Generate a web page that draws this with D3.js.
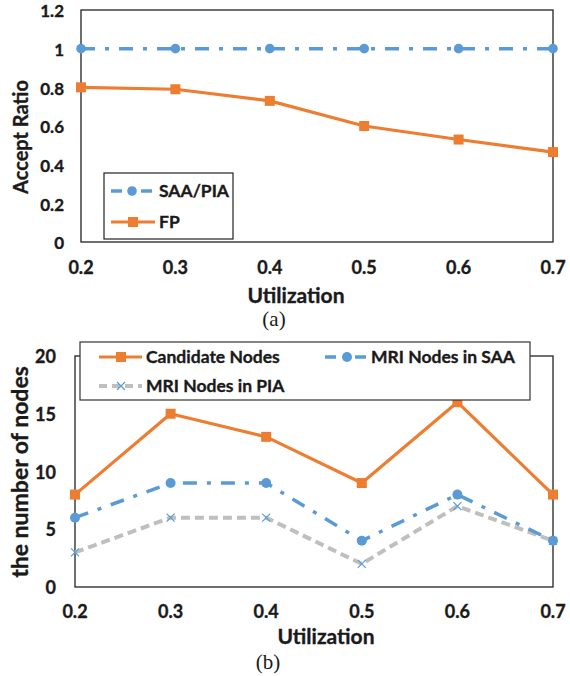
<!DOCTYPE html>
<html>
<head>
<meta charset="utf-8">
<script src="https://d3js.org/d3.v7.min.js"></script>
<style>
  body { margin: 0; background: #fff; }
  text { font-family: Lato, "Open Sans", sans-serif; font-weight: bold; fill: #1a1a1a; stroke: #1a1a1a; stroke-width: 0.35; }
  .cap { font-family: "Liberation Serif", serif; font-weight: normal; stroke: none; }
</style>
</head>
<body>
<svg width="570" height="676"></svg>
<script>
var utilization = [0.2, 0.3, 0.4, 0.5, 0.6, 0.7];
var xTicks = ["0.2", "0.3", "0.4", "0.5", "0.6", "0.7"];

// (a) accept ratio
var saaPia = [1, 1, 1, 1, 1, 1];
var fp = [0.8, 0.79, 0.73, 0.6, 0.53, 0.465];
var ratioTicks = [0, 0.2, 0.4, 0.6, 0.8, 1, 1.2];

// (b) number of nodes
var candidate = [8, 15, 13, 9, 16, 8];
var mriSaa = [6, 9, 9, 4, 8, 4];
var mriPia = [3, 6, 6, 2, 7, 4];
var nodeTicks = [0, 5, 10, 15, 20];

var BLUE = "#5b9bd5", ORANGE = "#ed7d31", GRAY = "#bfbfbf";
var svg = d3.select("svg");

function drawFrame(g, x, y) {
    g.append("rect")
        .attr("x", x.range()[0]).attr("y", y.range()[1])
        .attr("width", x.range()[1] - x.range()[0])
        .attr("height", y.range()[0] - y.range()[1])
        .attr("fill", "none").attr("stroke", "#222").attr("stroke-width", 1.3);
}

function series(g, x, y, vals, color, dash, width) {
    var line = d3.line().x(function (d, i) { return x(utilization[i]); }).y(function (d) { return y(d); });
    g.append("path").datum(vals)
        .attr("d", line)
        .attr("fill", "none")
        .attr("stroke", color)
        .attr("stroke-width", width)
        .attr("stroke-dasharray", dash)
        .attr("stroke-linejoin", "round");
}

function markers(g, x, y, vals, kind, size) {
    var sel = g.append("g").selectAll("g").data(vals).enter().append("g")
        .attr("transform", function (d, i) { return "translate(" + x(utilization[i]) + "," + y(d) + ")"; });
    drawMarker(sel, kind, size);
}

function drawMarker(sel, kind, size) {
    if (kind === "circle") {
        sel.append("circle").attr("r", size).attr("fill", BLUE);
    } else if (kind === "square") {
        sel.append("rect").attr("x", -size).attr("y", -size)
            .attr("width", size * 2).attr("height", size * 2).attr("fill", ORANGE);
    } else {
        sel.append("path").attr("d", "M-4,-4L4,4M-4,4L4,-4")
            .attr("stroke", BLUE).attr("stroke-width", 1.2).attr("fill", "none");
    }
}

function legendItem(g, x0, y0, len, color, dash, width, kind, size, label, markerAt) {
    g.append("path").attr("d", "M" + x0 + "," + y0 + "H" + (x0 + len))
        .attr("stroke", color).attr("stroke-width", width).attr("stroke-dasharray", dash).attr("fill", "none");
    var m = g.append("g").attr("transform", "translate(" + (x0 + markerAt) + "," + y0 + ")");
    drawMarker(m, kind, size);
    g.append("text").attr("x", x0 + len + 4).attr("y", y0).attr("dy", "0.35em")
        .attr("font-size", 17.5).text(label);
}

var SAA_DASH = "14,10,4,10", PIA_DASH = "9,5";

// ---------- chart (a) ----------
var xa = d3.scaleLinear().domain([0.2, 0.7]).range([81, 553]);
var ya = d3.scaleLinear().domain([0, 1.2]).range([242, 10]);
var ga = svg.append("g");

ga.append("g").selectAll("text").data(ratioTicks).enter().append("text")
    .attr("x", 64).attr("y", function (d) { return ya(d); }).attr("dy", "0.44em")
    .attr("text-anchor", "end").attr("font-size", 17)
    .text(function (d) { return d3.format("~g")(d); });
ga.append("g").selectAll("text").data(xTicks).enter().append("text")
    .attr("x", function (d, i) { return xa(utilization[i]); }).attr("y", 268).attr("dy", "0.36em")
    .attr("text-anchor", "middle").attr("font-size", 18)
    .text(function (d) { return d; });

drawFrame(ga, xa, ya);
series(ga, xa, ya, saaPia, BLUE, SAA_DASH, 3.5);
series(ga, xa, ya, fp, ORANGE, null, 3.2);
markers(ga, xa, ya, saaPia, "circle", 4.8);
markers(ga, xa, ya, fp, "square", 5);

ga.append("text").attr("transform", "translate(21,137) rotate(-90)").attr("dy", "0.36em")
    .attr("text-anchor", "middle").attr("font-size", 20).text("Accept Ratio");
ga.append("text").attr("x", 296).attr("y", 295).attr("dy", "0.36em")
    .attr("text-anchor", "middle").attr("font-size", 21).text("Utilization");
ga.append("text").attr("class", "cap").attr("x", 274).attr("y", 318).attr("dy", "0.36em")
    .attr("text-anchor", "middle").attr("font-size", 21).text("(a)");

var la = ga.append("g");
la.append("rect").attr("x", 104).attr("y", 173).attr("width", 129).attr("height", 66)
    .attr("fill", "#fff").attr("stroke", "#222").attr("stroke-width", 1.2);
legendItem(la, 111, 191, 44, BLUE, "11,8,3,8", 3.5, "circle", 4.8, "SAA/PIA", 21);
legendItem(la, 111, 222, 44, ORANGE, null, 3.2, "square", 5, "FP", 22);

// ---------- chart (b) ----------
var xb = d3.scaleLinear().domain([0.2, 0.7]).range([75, 553]);
var yb = d3.scaleLinear().domain([0, 20]).range([587, 356]);
var gb = svg.append("g");

gb.append("g").selectAll("text").data(nodeTicks).enter().append("text")
    .attr("x", 56).attr("y", function (d) { return yb(d); }).attr("dy", "0.4em")
    .attr("text-anchor", "end").attr("font-size", 18)
    .text(function (d) { return d; });
gb.append("g").selectAll("text").data(xTicks).enter().append("text")
    .attr("x", function (d, i) { return xb(utilization[i]); }).attr("y", 612).attr("dy", "0.36em")
    .attr("text-anchor", "middle").attr("font-size", 18)
    .text(function (d) { return d; });

drawFrame(gb, xb, yb);
series(gb, xb, yb, mriPia, GRAY, PIA_DASH, 4);
series(gb, xb, yb, mriSaa, BLUE, SAA_DASH, 3.5);
series(gb, xb, yb, candidate, ORANGE, null, 3.2);
markers(gb, xb, yb, mriPia, "x", 4);
markers(gb, xb, yb, mriSaa, "circle", 5);
markers(gb, xb, yb, candidate, "square", 5);

gb.append("text").attr("transform", "translate(20,472) rotate(-90)").attr("dy", "0.36em")
    .attr("text-anchor", "middle").attr("font-size", 23).text("the number of nodes");
gb.append("text").attr("x", 326).attr("y", 636).attr("dy", "0.36em")
    .attr("text-anchor", "middle").attr("font-size", 21).text("Utilization");
gb.append("text").attr("class", "cap").attr("x", 268).attr("y", 661).attr("dy", "0.36em")
    .attr("text-anchor", "middle").attr("font-size", 21).text("(b)");

var lb = gb.append("g");
lb.append("rect").attr("x", 80).attr("y", 342).attr("width", 450).attr("height", 58)
    .attr("fill", "#fff").attr("stroke", "#333").attr("stroke-width", 1.2);
legendItem(lb, 99, 357, 43, ORANGE, null, 3.2, "square", 5, "Candidate Nodes", 22);
legendItem(lb, 99, 386, 43, GRAY, "8,5", 4, "x", 4, "MRI Nodes in PIA", 22);
legendItem(lb, 325, 357, 42, BLUE, "11,8,3,8", 3.5, "circle", 5, "MRI Nodes in SAA", 22);
</script>
</body>
</html>
